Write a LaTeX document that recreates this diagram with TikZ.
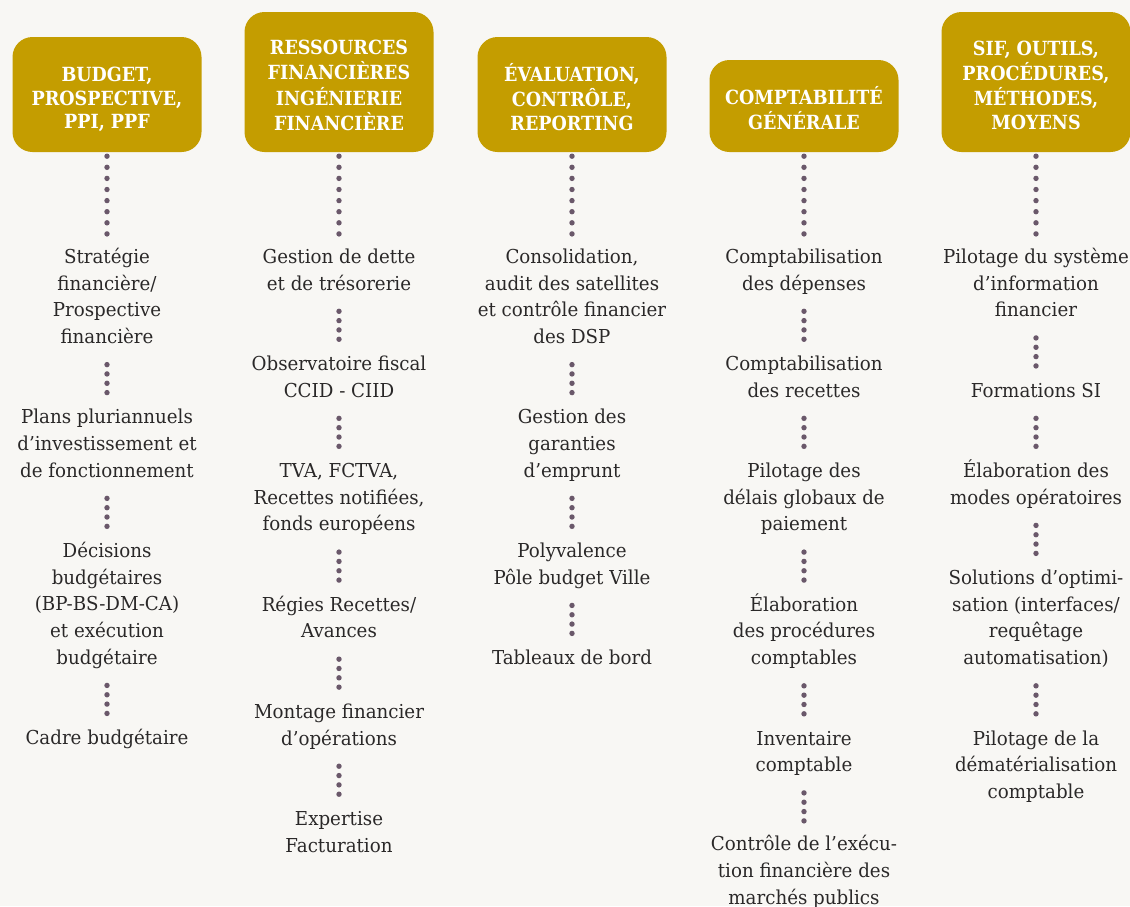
\documentclass[tikz,border=0pt]{standalone}
\usepackage{fontspec}
\setmainfont{DejaVu Serif}[FakeStretch=0.95]
\newfontfamily\hdfont{DejaVu Serif}[FakeStretch=0.9]
\usetikzlibrary{positioning}
\definecolor{bg}{RGB}{248,247,244}
\definecolor{gold}{RGB}{196,157,0}
\definecolor{ink}{RGB}{42,40,40}
\definecolor{dotc}{RGB}{106,88,106}
\newcommand\stk[1]{\begin{tabular}{@{}c@{}}#1\end{tabular}}
\begin{document}
\begin{tikzpicture}[x=1pt,y=-1pt,
  hdrbox/.style={fill=gold, rounded corners=20pt, minimum width=189pt, inner sep=0pt},
  hdrtext/.style={text=white, inner sep=0pt,
    font=\hdfont\bfseries\fontsize{19.5}{23.6}\selectfont},
  itm/.style={text=ink, inner sep=0pt,
    font=\fontsize{19.2}{26.67}\selectfont},
  longdots/.style={draw=dotc, line width=5.4pt, line cap=round,
    dash pattern=on 0pt off 11.1pt, shorten <=4pt, shorten >=10.4pt},
  shortdots/.style={draw=dotc, line width=5.4pt, line cap=round,
    dash pattern=on 0pt off 9.33pt, shorten <=13pt, shorten >=12pt},
  node distance=53.33pt]
\useasboundingbox (0,0) rectangle (1130,906);
\fill[bg] (0,0) rectangle (1130,906);

% headers
\node[hdrbox, minimum height=115pt] (h1) at (107,94.5) {};
\node[hdrbox, minimum height=140pt] (h2) at (339,82) {};
\node[hdrbox, minimum height=115pt] (h3) at (572,94.5) {};
\node[hdrbox, minimum height=92pt] (h4) at (804,106) {};
\node[hdrbox, minimum height=140pt] (h5) at (1036,82) {};
\node[hdrtext] (h1t) at ([yshift=-5.8pt]h1.center) {\stk{BUDGET,\\PROSPECTIVE,\\PPI, PPF}};
\node[hdrtext] (h2t) at ([yshift=-5.8pt]h2.center) {\stk{RESSOURCES\\FINANCIÈRES\\INGÉNIERIE\\FINANCIÈRE}};
\node[hdrtext] (h3t) at ([yshift=-5.8pt]h3.center) {\stk{ÉVALUATION,\\CONTRÔLE,\\REPORTING}};
\node[hdrtext] (h4t) at ([yshift=-5.8pt]h4.center) {\stk{COMPTABILITÉ\\GÉNÉRALE}};
\node[hdrtext] (h5t) at ([yshift=-5.8pt]h5.center) {\stk{SIF, OUTILS,\\PROCÉDURES,\\MÉTHODES,\\MOYENS}};

% column 1
\node[itm, below=92.33pt of h1] (c1a) {\stk{Stratégie\\financière/\\Prospective\\financière}};
\node[itm, below=of c1a] (c1b) {\stk{Plans pluriannuels\\d’investissement et\\de fonctionnement}};
\node[itm, below=of c1b] (c1c) {\stk{Décisions\\budgétaires\\(BP-BS-DM-CA)\\et exécution\\budgétaire}};
\node[itm, below=of c1c] (c1d) {\stk{Cadre budgétaire}};

% column 2
\node[itm, below=92.33pt of h2] (c2a) {\stk{Gestion de dette\\et de trésorerie}};
\node[itm, below=of c2a] (c2b) {\stk{Observatoire fiscal\\CCID - CIID}};
\node[itm, below=of c2b] (c2c) {\stk{TVA, FCTVA,\\Recettes notifiées,\\fonds européens}};
\node[itm, below=of c2c] (c2d) {\stk{Régies Recettes/\\Avances}};
\node[itm, below=of c2d] (c2e) {\stk{Montage financier\\d’opérations}};
\node[itm, below=of c2e] (c2f) {\stk{Expertise\\Facturation}};

% column 3
\node[itm, below=92.33pt of h3] (c3a) {\stk{Consolidation,\\audit des satellites\\et contrôle financier\\des DSP}};
\node[itm, below=of c3a] (c3b) {\stk{Gestion des\\garanties\\d’emprunt}};
\node[itm, below=of c3b] (c3c) {\stk{Polyvalence\\Pôle budget Ville}};
\node[itm, below=of c3c] (c3d) {\stk{Tableaux de bord}};

% column 4
\node[itm, below=92.33pt of h4] (c4a) {\stk{Comptabilisation\\des dépenses}};
\node[itm, below=of c4a] (c4b) {\stk{Comptabilisation\\des recettes}};
\node[itm, below=of c4b] (c4c) {\stk{Pilotage des\\délais globaux de\\paiement}};
\node[itm, below=of c4c] (c4d) {\stk{Élaboration\\des procédures\\comptables}};
\node[itm, below=of c4d] (c4e) {\stk{Inventaire\\comptable}};
\node[itm, below=52pt of c4e] (c4f) {\stk{Contrôle de l’exécu-\\tion financière des\\marchés publics}};

% column 5
\node[itm, below=92.33pt of h5] (c5a) {\stk{Pilotage du système\\d’information\\financier}};
\node[itm, below=of c5a] (c5b) {\stk{Formations SI}};
\node[itm, below=of c5b] (c5c) {\stk{Élaboration des\\modes opératoires}};
\node[itm, below=of c5c] (c5d) {\stk{Solutions d’optimi-\\sation (interfaces/\\requêtage\\automatisation)}};
\node[itm, below=of c5d] (c5e) {\stk{Pilotage de la\\dématérialisation\\comptable}};

% connectors
\foreach \h/\c in {h1/c1a,h2/c2a,h3/c3a,h4/c4a,h5/c5a}
  \draw[longdots] (\h.south) -- (\c.north);
\foreach \a/\b in {c1a/c1b,c1b/c1c,c1c/c1d,
                   c2a/c2b,c2b/c2c,c2c/c2d,c2d/c2e,c2e/c2f,
                   c3a/c3b,c3b/c3c,c3c/c3d,
                   c4a/c4b,c4b/c4c,c4c/c4d,c4d/c4e,
                   c5a/c5b,c5b/c5c,c5c/c5d,c5d/c5e}
  \draw[shortdots] (\a.south) -- (\b.north);
\draw[shortdots, shorten >=10.7pt] (c4e.south) -- (c4f.north);
\end{tikzpicture}
\end{document}
